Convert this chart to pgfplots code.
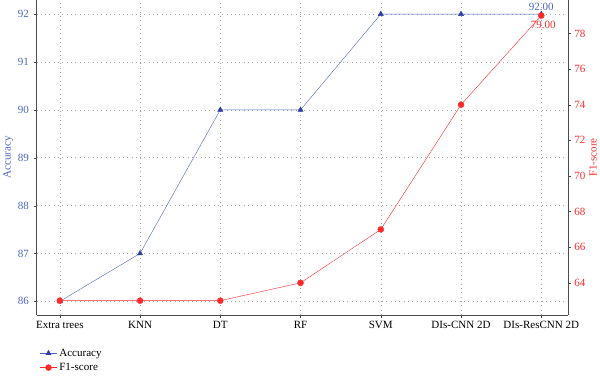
\documentclass[border=0pt]{standalone}
\usepackage{pgfplots}
\pgfplotsset{compat=1.18}
\usepackage{fontspec}
\setmainfont{Liberation Serif}
\definecolor{accblue}{HTML}{4A66C4}
\definecolor{accdark}{HTML}{2C3F9E}
\definecolor{f1red}{HTML}{FF2A2A}
\definecolor{gridgray}{HTML}{AAAAAA}
\begin{document}
\begin{tikzpicture}[font=\fontsize{11}{13}\selectfont]
\pgfplotsset{
  common/.style={
    scale only axis, width=527bp, height=312bp,
    xmin=-0.29, xmax=6.33,
    xtick={0,1,2,3,4,5,6},
    /pgf/number format/assume math mode=true,
    tick style={black!70},
    axis line style={black!70},
  }
}
\begin{axis}[common,
  axis y line*=left, axis x line*=bottom,
  ymin=85.72, ymax=92.29,
  ytick={86,87,88,89,90,91,92},
  xticklabels={Extra trees,KNN,DT,RF,SVM,DIs-CNN 2D,DIs-ResCNN 2D},
  yticklabel style={color=accblue, xshift=-1pt},
  ylabel={Accuracy}, ylabel style={color=accblue, yshift=-2pt},
  grid=major, major grid style={gridgray, line width=0.5pt, dash pattern=on 0.8pt off 3.5pt},
  tick align=outside, major tick length=3pt,
]
\addplot[accblue, mark=triangle*, mark options={accdark, scale=1.5}] coordinates {
(0,86) (1,87) (2,90) (3,90) (4,92) (5,92) (6,92)};
\node[accblue, anchor=south, inner sep=2pt, yshift=1pt] at (axis cs:6,92) {92.00};
\end{axis}
\begin{axis}[common,
  axis y line*=right, axis x line=none,
  ymin=62.21, ymax=79.86,
  ytick={64,66,68,70,72,74,76,78},
  yticklabel style={color=f1red},
  ylabel={F1-score}, ylabel style={color=f1red, yshift=3pt},
  tick align=outside, major tick length=3pt,
  legend style={draw=none, fill=none, at={(rel axis cs:0,-0.095)}, anchor=north west, row sep=1.5pt},
  legend cell align=left,
]
\addlegendimage{accblue, mark=triangle*, mark options={accdark, scale=1.5}}
\addlegendentry{Accuracy}
\addplot[f1red, mark=*, mark options={f1red, scale=1.5}] coordinates {
(0,63) (1,63) (2,63) (3,64) (4,67) (5,74) (6,79)};
\addlegendentry{F1-score}
\node[f1red, anchor=north, inner sep=2pt, yshift=-3.5pt, xshift=2pt] at (axis cs:6,79) {79.00};
\end{axis}
\end{tikzpicture}
\end{document}
